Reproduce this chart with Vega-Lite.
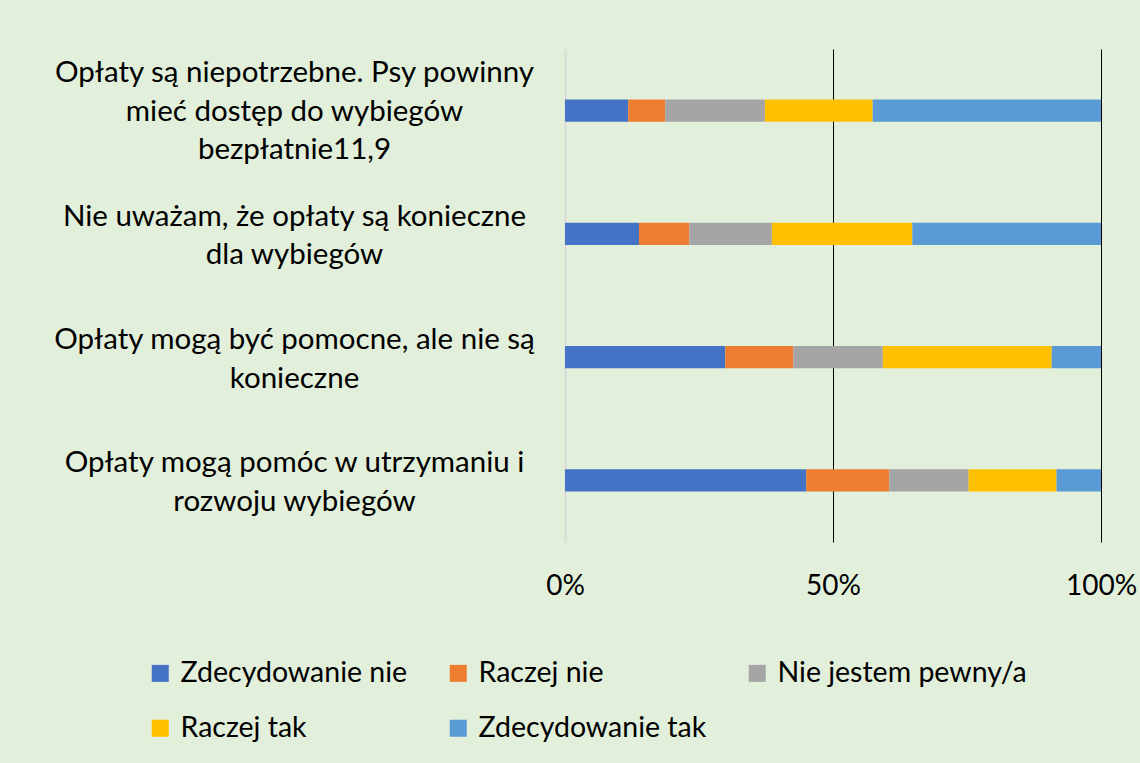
{
  "$schema": "https://vega.github.io/schema/vega-lite/v6.json",
  "width": 536,
  "height": 493,
  "autosize": "none",
  "padding": {"left": 565, "top": 49, "right": 39, "bottom": 221},
  "background": "#E2EFDA",
  "config": {
    "view": {"stroke": null},
    "font": "Lato",
    "text": {"font": "Lato"}
  },
  "data": {
    "values": [
      {"q": "Opłaty są niepotrzebne. Psy powinny|mieć dostęp do wybiegów|bezpłatnie11,9", "qi": 1, "odp": "Zdecydowanie nie", "o": 1, "v": 11.8},
      {"q": "Opłaty są niepotrzebne. Psy powinny|mieć dostęp do wybiegów|bezpłatnie11,9", "qi": 1, "odp": "Raczej nie", "o": 2, "v": 6.9},
      {"q": "Opłaty są niepotrzebne. Psy powinny|mieć dostęp do wybiegów|bezpłatnie11,9", "qi": 1, "odp": "Nie jestem pewny/a", "o": 3, "v": 18.6},
      {"q": "Opłaty są niepotrzebne. Psy powinny|mieć dostęp do wybiegów|bezpłatnie11,9", "qi": 1, "odp": "Raczej tak", "o": 4, "v": 20.1},
      {"q": "Opłaty są niepotrzebne. Psy powinny|mieć dostęp do wybiegów|bezpłatnie11,9", "qi": 1, "odp": "Zdecydowanie tak", "o": 5, "v": 42.6},
      {"q": "Nie uważam, że opłaty są konieczne|dla wybiegów", "qi": 2, "odp": "Zdecydowanie nie", "o": 1, "v": 13.8},
      {"q": "Nie uważam, że opłaty są konieczne|dla wybiegów", "qi": 2, "odp": "Raczej nie", "o": 2, "v": 9.4},
      {"q": "Nie uważam, że opłaty są konieczne|dla wybiegów", "qi": 2, "odp": "Nie jestem pewny/a", "o": 3, "v": 15.4},
      {"q": "Nie uważam, że opłaty są konieczne|dla wybiegów", "qi": 2, "odp": "Raczej tak", "o": 4, "v": 26.2},
      {"q": "Nie uważam, że opłaty są konieczne|dla wybiegów", "qi": 2, "odp": "Zdecydowanie tak", "o": 5, "v": 35.2},
      {"q": "Opłaty mogą być pomocne, ale nie są|konieczne", "qi": 3, "odp": "Zdecydowanie nie", "o": 1, "v": 29.9},
      {"q": "Opłaty mogą być pomocne, ale nie są|konieczne", "qi": 3, "odp": "Raczej nie", "o": 2, "v": 12.7},
      {"q": "Opłaty mogą być pomocne, ale nie są|konieczne", "qi": 3, "odp": "Nie jestem pewny/a", "o": 3, "v": 16.7},
      {"q": "Opłaty mogą być pomocne, ale nie są|konieczne", "qi": 3, "odp": "Raczej tak", "o": 4, "v": 31.5},
      {"q": "Opłaty mogą być pomocne, ale nie są|konieczne", "qi": 3, "odp": "Zdecydowanie tak", "o": 5, "v": 9.2},
      {"q": "Opłaty mogą pomóc w utrzymaniu i|rozwoju wybiegów", "qi": 4, "odp": "Zdecydowanie nie", "o": 1, "v": 45.0},
      {"q": "Opłaty mogą pomóc w utrzymaniu i|rozwoju wybiegów", "qi": 4, "odp": "Raczej nie", "o": 2, "v": 15.5},
      {"q": "Opłaty mogą pomóc w utrzymaniu i|rozwoju wybiegów", "qi": 4, "odp": "Nie jestem pewny/a", "o": 3, "v": 14.8},
      {"q": "Opłaty mogą pomóc w utrzymaniu i|rozwoju wybiegów", "qi": 4, "odp": "Raczej tak", "o": 4, "v": 16.4},
      {"q": "Opłaty mogą pomóc w utrzymaniu i|rozwoju wybiegów", "qi": 4, "odp": "Zdecydowanie tak", "o": 5, "v": 8.3}
    ]
  },
  "mark": {"type": "bar"},
  "encoding": {
    "y": {
      "field": "q",
      "type": "nominal",
      "sort": {"field": "qi", "op": "min", "order": "ascending"},
      "scale": {"paddingInner": 0.82, "paddingOuter": 0.41},
      "axis": {
        "title": null,
        "domain": false,
        "ticks": false,
        "labelExpr": "split(datum.label, '|')",
        "labelAlign": "center",
        "labelBaseline": "middle",
        "labelPadding": 271,
        "labelOffset": {"condition": {"test": "indexof(datum.value, 'bezpłatnie') >= 0", "value": -37.5}, "value": -17},
        "labelFontSize": 29.5,
        "labelLineHeight": 38.5,
        "labelColor": "#000000",
        "labelLimit": 0,
        "labelFont": "Lato"
      }
    },
    "x": {
      "field": "v",
      "type": "quantitative",
      "stack": "normalize",
      "scale": {"domain": [0, 1], "nice": false},
      "axis": {
        "title": null,
        "values": [0, 0.5, 1],
        "format": ".0%",
        "domain": false,
        "ticks": false,
        "grid": true,
        "gridColor": {"condition": {"test": "datum.value === 0", "value": "#D9D9D9"}, "value": "#000000"},
        "gridWidth": {"condition": {"test": "datum.value === 0", "value": 2}, "value": 1},
        "gridOpacity": 1,
        "labelFontSize": 28,
        "labelPadding": 30,
        "labelColor": "#000000",
        "labelFont": "Lato",
        "labelFlush": false
      }
    },
    "color": {
      "field": "odp",
      "type": "nominal",
      "scale": {
        "domain": ["Zdecydowanie nie", "Raczej nie", "Nie jestem pewny/a", "Raczej tak", "Zdecydowanie tak"],
        "range": ["#4472C4", "#ED7D31", "#A5A5A5", "#FFC000", "#5B9BD5"]
      },
      "legend": {
        "title": null,
        "orient": "none",
        "legendX": -419,
        "legendY": 610,
        "direction": "horizontal",
        "columns": 3,
        "symbolType": "square",
        "symbolSize": 289,
        "symbolStrokeWidth": 0,
        "symbolOpacity": 1,
        "labelFontSize": 28.5,
        "labelFont": "Lato",
        "labelColor": "#000000",
        "labelOffset": 6,
        "labelLimit": 0,
        "columnPadding": 36,
        "rowPadding": 26
      }
    },
    "order": {"field": "o", "type": "quantitative"}
  }
}
